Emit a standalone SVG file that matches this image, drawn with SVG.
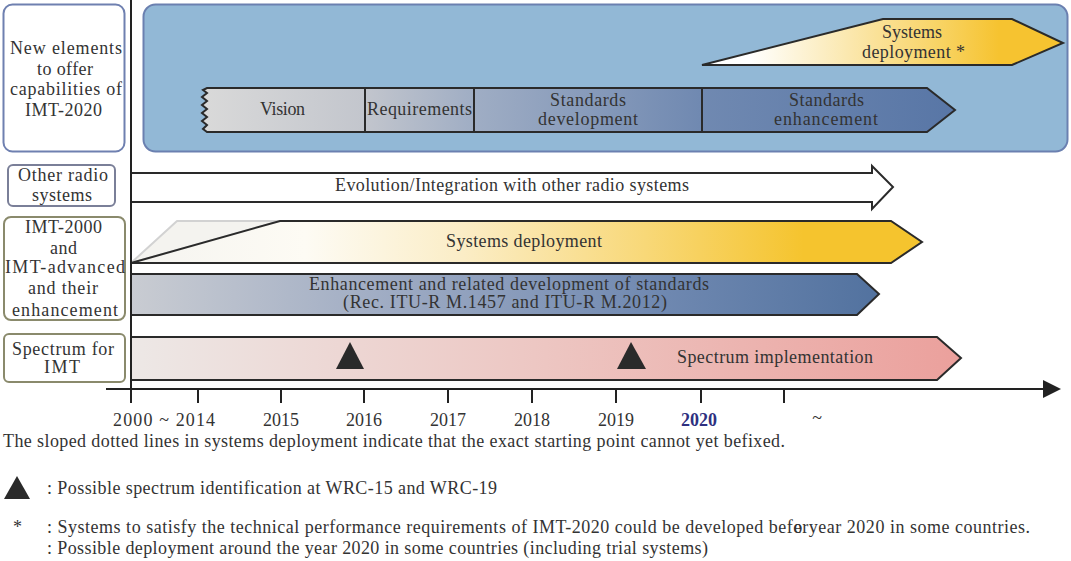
<svg xmlns="http://www.w3.org/2000/svg" width="1071" height="561" viewBox="0 0 1071 561">
<style>
text{font-family:"Liberation Serif","Times New Roman",serif;font-size:18px;fill:#333}
.c{text-anchor:middle}
.box{fill:#fff;stroke-width:2}
.bar{stroke:#2a2a2a;stroke-width:2;stroke-linejoin:miter}
.ax{stroke:#222;stroke-width:2;fill:none}
.tri{fill:#2a2a2a}
</style>
<defs>
<linearGradient id="gStd" gradientUnits="userSpaceOnUse" x1="205" y1="0" x2="955" y2="0">
<stop offset="0" stop-color="#d9d9d9"/>
<stop offset="0.21" stop-color="#c3c6cd"/>
<stop offset="0.36" stop-color="#9fadc4"/>
<stop offset="0.66" stop-color="#7089b1"/>
<stop offset="1" stop-color="#5876a6"/>
</linearGradient>
<linearGradient id="gDep1" gradientUnits="userSpaceOnUse" x1="702" y1="0" x2="1064" y2="0">
<stop offset="0" stop-color="#ffffff"/>
<stop offset="0.13" stop-color="#ffffff"/>
<stop offset="0.4" stop-color="#fbe8b0"/>
<stop offset="0.65" stop-color="#f8d466"/>
<stop offset="0.82" stop-color="#f6c330"/>
<stop offset="1" stop-color="#f6c330"/>
</linearGradient>
<linearGradient id="gDep2" gradientUnits="userSpaceOnUse" x1="131" y1="0" x2="922" y2="0">
<stop offset="0" stop-color="#f5f4f0"/>
<stop offset="0.22" stop-color="#fdfbf4"/>
<stop offset="0.42" stop-color="#fbedc6"/>
<stop offset="0.65" stop-color="#f8d878"/>
<stop offset="0.85" stop-color="#f5c42e"/>
<stop offset="1" stop-color="#f5c42e"/>
</linearGradient>
<linearGradient id="gEnh" gradientUnits="userSpaceOnUse" x1="131" y1="0" x2="879" y2="0">
<stop offset="0" stop-color="#c9ccd2"/>
<stop offset="0.35" stop-color="#9eabc3"/>
<stop offset="0.7" stop-color="#7089b1"/>
<stop offset="1" stop-color="#52729f"/>
</linearGradient>
<linearGradient id="gSpec" gradientUnits="userSpaceOnUse" x1="131" y1="0" x2="961" y2="0">
<stop offset="0" stop-color="#ede8e6"/>
<stop offset="0.5" stop-color="#edc6c2"/>
<stop offset="1" stop-color="#eba09c"/>
</linearGradient>
</defs>

<g id="label-new-elements">
<rect class="box" x="3.5" y="4.5" width="121" height="147" rx="9" stroke="#6f80b0"/>
<text x="10" y="54" textLength="112" lengthAdjust="spacing">New elements</text>
<text x="37" y="75" textLength="56" lengthAdjust="spacing">to offer</text>
<text x="10" y="95" textLength="112" lengthAdjust="spacing">capabilities of</text>
<text x="25" y="116" textLength="77" lengthAdjust="spacing">IMT-2020</text>
</g>
<g id="label-other-radio">
<rect class="box" x="8" y="165" width="107" height="41" rx="5" stroke="#7a7f98"/>
<text x="18" y="181" textLength="90" lengthAdjust="spacing">Other radio</text>
<text x="32" y="201" textLength="60" lengthAdjust="spacing">systems</text>
</g>
<g id="label-imt2000">
<rect class="box" x="4" y="217" width="121" height="103" rx="7" stroke="#8a8a6c"/>
<text x="25" y="233" textLength="77" lengthAdjust="spacing">IMT-2000</text>
<text x="50" y="254" textLength="27" lengthAdjust="spacing">and</text>
<text x="5" y="273" textLength="120" lengthAdjust="spacing">IMT-advanced</text>
<text x="28" y="294" textLength="70" lengthAdjust="spacing">and their</text>
<text x="12" y="316" textLength="106" lengthAdjust="spacing">enhancement</text>
</g>
<g id="label-spectrum">
<rect class="box" x="4" y="334" width="121" height="48" rx="5" stroke="#8a8a6c"/>
<text x="12" y="355" textLength="102" lengthAdjust="spacing">Spectrum for</text>
<text x="44" y="373" textLength="36" lengthAdjust="spacing">IMT</text>
</g>

<g id="panel-imt2020">
<rect x="143.5" y="4.5" width="924" height="147" rx="12" fill="#92b8d6" stroke="#6b80b0" stroke-width="2"/>
</g>
<g id="node-systems-deployment-2020">
<polygon class="bar" points="702,65 883,19 1012,19 1063,43 1012,65" fill="url(#gDep1)"/>
<text x="882" y="38" textLength="60" lengthAdjust="spacing">Systems</text>
<text x="862" y="58" textLength="103" lengthAdjust="spacing">deployment *</text>
</g>
<g id="node-standards-bar">
<polygon class="bar" points="207,88 927,88 955,110 927,132 207,132 203,129 207,125 202,121 207,117 202,113 207,109 202,105 207,101 202,97 207,93 203,90" fill="url(#gStd)"/>
<line class="bar" x1="365" y1="88" x2="365" y2="132"/>
<line class="bar" x1="474" y1="88" x2="474" y2="132"/>
<line class="bar" x1="702" y1="88" x2="702" y2="132"/>
<text x="260" y="115" textLength="45" lengthAdjust="spacing">Vision</text>
<text x="367" y="115" textLength="105" lengthAdjust="spacing">Requirements</text>
<text x="550" y="106" textLength="76" lengthAdjust="spacing">Standards</text>
<text x="538" y="125" textLength="100" lengthAdjust="spacing">development</text>
<text x="789" y="106" textLength="75" lengthAdjust="spacing">Standards</text>
<text x="774" y="125" textLength="104" lengthAdjust="spacing">enhancement</text>
</g>

<g id="node-evolution">
<polygon class="bar" points="131,173 872,173 872,166 893,187 872,209 872,202 131,202" fill="#fff"/>
<text x="335" y="191" textLength="354" lengthAdjust="spacing">Evolution/Integration with other radio systems</text>
</g>
<g id="node-systems-deployment">
<polygon points="131,263 177,221 280,221" fill="#f4f3ef" stroke="#d2d2d2" stroke-width="2" stroke-linejoin="round"/>
<polygon class="bar" points="131,263 280,221 891,221 922,242 891,263" fill="url(#gDep2)"/>
<text x="446" y="247" textLength="156" lengthAdjust="spacing">Systems deployment</text>
</g>
<g id="node-enhancement">
<polygon class="bar" points="131,274 857,274 879,294 857,315 131,315" fill="url(#gEnh)"/>
<text x="309" y="290" textLength="400" lengthAdjust="spacing">Enhancement and related development of standards</text>
<text x="343" y="308" textLength="324" lengthAdjust="spacing">(Rec. ITU-R M.1457 and ITU-R M.2012)</text>
</g>
<g id="node-spectrum">
<polygon class="bar" points="131,337 937,337 961,358 937,380 131,380" fill="url(#gSpec)"/>
<polygon class="tri" points="350,342 336,369 364,369"/>
<polygon class="tri" points="631,342 617,369 646,369"/>
<text x="677" y="363" textLength="196" lengthAdjust="spacing">Spectrum implementation</text>
</g>

<g id="axes">
<line class="ax" x1="131" y1="0" x2="131" y2="389"/>
<line class="ax" x1="106" y1="389" x2="1046" y2="389"/>
<polygon points="1043,380 1061,389 1043,398" fill="#222"/>
<path class="ax" d="M131,389V403M198,389V403M281,389V403M364,389V403M448,389V403M532,389V403M616,389V403M701,389V403M784,389V403"/>
<text x="113" y="426" textLength="102" lengthAdjust="spacing">2000 ~ 2014</text>
<text class="c" x="281" y="426">2015</text>
<text class="c" x="364" y="426">2016</text>
<text class="c" x="448" y="426">2017</text>
<text class="c" x="532" y="426">2018</text>
<text class="c" x="616" y="426">2019</text>
<text class="c" x="699" y="426" style="font-weight:bold;fill:#2e3080">2020</text>
<text class="c" x="817" y="424">~</text>
</g>

<g id="notes">
<text x="3" y="447" textLength="782" lengthAdjust="spacing">The sloped dotted lines in systems deployment indicate that the exact starting point cannot yet befixed.</text>
<polygon class="tri" points="17,476 4,499 30,499"/>
<text x="47" y="494" textLength="450" lengthAdjust="spacing">: Possible spectrum identification at WRC-15 and WRC-19</text>
<text x="13" y="533">*</text>
<text x="47" y="533" textLength="983" lengthAdjust="spacing">: Systems to satisfy the technical performance requirements of IMT-2020 could be developed befo<tspan dx="-9">e</tspan>ryear 2020 in some countries.</text>
<text x="47" y="554" textLength="661" lengthAdjust="spacing">: Possible deployment around the year 2020 in some countries (including trial systems)</text>
</g>
</svg>
